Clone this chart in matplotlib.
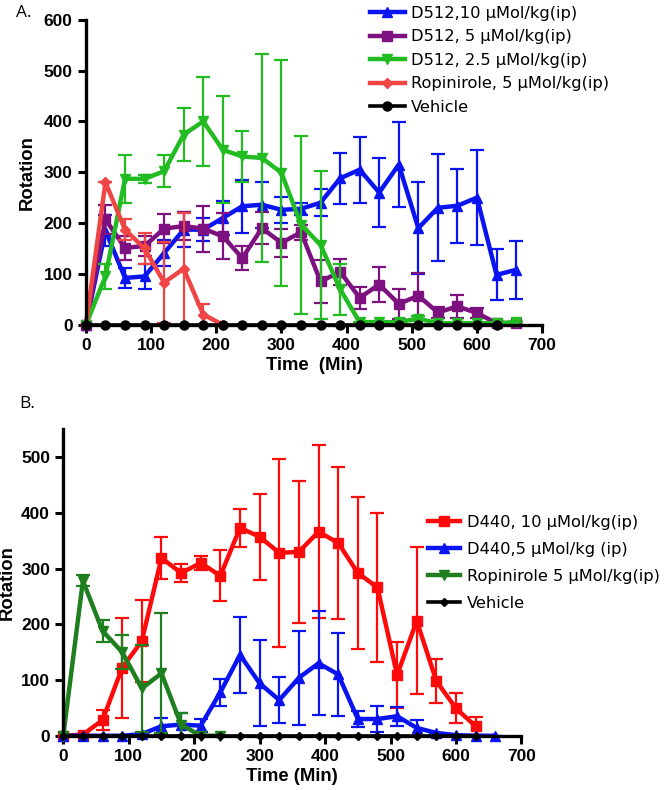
import matplotlib
matplotlib.use("Agg")
import matplotlib.pyplot as plt
import numpy as np

plt.rcParams["font.family"] = ["Liberation Sans", "DejaVu Sans"]

# ---- panel A data (time in min) ----
time_a = [0, 30, 60, 90, 120, 150, 180, 210, 240, 270, 300, 330, 360, 390,
          420, 450, 480, 510, 540, 570, 600, 630, 660]
d512_10 = [0, 185, 92, 95, 141, 187, 187, 210, 233, 236, 226, 228, 240, 288,
           305, 260, 315, 190, 230, 234, 250, 98, 108]
d512_10_err = [0, 30, 19, 24, 25, 34, 22, 33, 52, 45, 25, 12, 27, 50,
               65, 68, 83, 90, 105, 73, 93, 50, 57]
d512_5 = [0, 207, 151, 155, 189, 194, 189, 174, 131, 190, 161, 182, 85, 104,
          53, 79, 41, 57, 24, 36, 23, 3, 3]
d512_5_err = [0, 28, 23, 20, 28, 28, 45, 45, 24, 32, 28, 15, 43, 25,
              22, 35, 30, 45, 10, 22, 10, 3, 3]
d512_25 = [0, 95, 287, 287, 302, 374, 400, 344, 331, 328, 299, 197, 157, 70,
           5, 5, 5, 12, 3, 3, 3, 3, 5]
d512_25_err = [0, 25, 47, 8, 32, 52, 88, 105, 50, 205, 222, 175, 145, 50,
               0, 0, 0, 5, 0, 0, 0, 0, 0]
time_ropi_a = [0, 30, 60, 90, 120, 150, 180, 210]
ropi_a = [0, 280, 187, 150, 83, 110, 20, 0]
ropi_a_err = [0, 0, 20, 30, 80, 110, 20, 0]
time_veh = [0, 30, 60, 90, 120, 150, 180, 210, 240, 270, 300, 330, 360, 390,
            420, 450, 480, 510, 540, 570, 600, 630]
veh = [0] * len(time_veh)

# ---- panel B data ----
time_b = time_a
d440_10 = [0, 2, 28, 122, 170, 319, 292, 310, 287, 373, 357, 328, 330, 366,
           346, 292, 266, 109, 206, 98, 49, 17]
d440_10_err = [0, 0, 18, 90, 73, 38, 17, 12, 46, 34, 77, 168, 127, 155,
               137, 136, 133, 60, 132, 40, 27, 16]
d440_5 = [0, 0, 0, 0, 3, 17, 20, 18, 78, 145, 94, 64, 104, 130,
          110, 30, 30, 35, 14, 5, 1, 0, 0]
d440_5_err = [0, 0, 0, 0, 0, 14, 20, 12, 24, 68, 77, 41, 84, 93,
              75, 14, 23, 17, 14, 0, 0, 0, 0]
time_ropi_b = [0, 30, 60, 90, 120, 150, 180, 210, 240]
ropi_b = [0, 278, 188, 150, 85, 112, 20, 0, 0]
ropi_b_err = [0, 10, 20, 30, 78, 108, 20, 0, 0]


def _series(ax, x, y, err, color, marker, ms, label):
    ax.errorbar(x[:len(y)], y, yerr=err, fmt="none", ecolor=color,
                elinewidth=1.6, capsize=5, capthick=1.6)
    ax.plot(x[:len(y)], y, color=color, marker=marker, ms=ms, lw=3.2,
            label=label, clip_on=False)


def _style(ax, ymax, xlabel, ylabelpad):
    ax.set_xlim(0, 700)
    ax.set_ylim(0, ymax)
    ax.set_xticks(range(0, 701, 100))
    ax.set_yticks(range(0, min(ymax, 600) + 1, 100))
    for s in ("top", "right"):
        ax.spines[s].set_visible(False)
    for s in ("left", "bottom"):
        ax.spines[s].set_linewidth(2.4)
    ax.tick_params(width=2.2, length=6, labelsize=12.5)
    for lab in ax.get_xticklabels() + ax.get_yticklabels():
        lab.set_fontweight("bold")
    ax.set_xlabel(xlabel, fontsize=13.3, fontweight="bold", labelpad=3)
    ax.set_ylabel("Rotation", fontsize=13.3, fontweight="bold", labelpad=ylabelpad)


leg_font = {"family": ["DejaVu Sans"], "size": 11.7}

fig = plt.figure(figsize=(6.66, 7.9), dpi=100)

# panel A
axa = fig.add_axes([0.129, 0.589, 0.685, 0.386])
_series(axa, time_a, d512_10, d512_10_err, "#0a14f0", "^", 7, "D512,10 \u03bcMol/kg(ip)")
_series(axa, time_a, d512_5, d512_5_err, "#7d1180", "s", 7, "D512, 5 \u03bcMol/kg(ip)")
_series(axa, time_a, d512_25, d512_25_err, "#22bb22", "v", 7, "D512, 2.5 \u03bcMol/kg(ip)")
_series(axa, time_ropi_a, ropi_a, ropi_a_err, "#f04545", "D", 5, "Ropinirole, 5 \u03bcMol/kg(ip)")
axa.plot(time_veh, veh, color="black", marker="o", ms=6.5, lw=2.6,
         label="Vehicle", clip_on=False)
_style(axa, 600, "Time  (Min)", 6)
fig.legend(*axa.get_legend_handles_labels(), loc="upper left",
           bbox_to_anchor=(370 / 666, 1 - 6 / 790), frameon=False,
           prop=leg_font, handlelength=2.15, handletextpad=0.37,
           labelspacing=0.52, borderaxespad=0, borderpad=0)

# panel B
axb = fig.add_axes([0.095, 0.0687, 0.688, 0.388])
_series(axb, time_b, d440_10, d440_10_err, "#ff0a0a", "s", 7, "D440, 10 \u03bcMol/kg(ip)")
_series(axb, time_b, d440_5, d440_5_err, "#0a14f0", "^", 7, "D440,5 \u03bcMol/kg (ip)")
_series(axb, time_ropi_b, ropi_b, ropi_b_err, "#1f7f1f", "v", 7, "Ropinirole 5 \u03bcMol/kg(ip)")
axb.plot(time_veh, veh, color="black", marker="D", ms=4.5, lw=2.6,
         label="Vehicle", clip_on=False)
_style(axb, 550, "Time (Min)", 4)
fig.legend(*axb.get_legend_handles_labels(), loc="upper left",
           bbox_to_anchor=(428 / 666, 1 - 515 / 790), frameon=False,
           prop=leg_font, handlelength=2.0, handletextpad=0.37,
           labelspacing=0.74, borderaxespad=0, borderpad=0)

fig.text(16 / 666, 1 - 17 / 790, "A.", fontsize=12.5, family=["Open Sans", "DejaVu Sans"])
fig.text(19 / 666, 1 - 408 / 790, "B.", fontsize=12.5, family=["Open Sans", "DejaVu Sans"])

fig.savefig("out.png", dpi=100)
